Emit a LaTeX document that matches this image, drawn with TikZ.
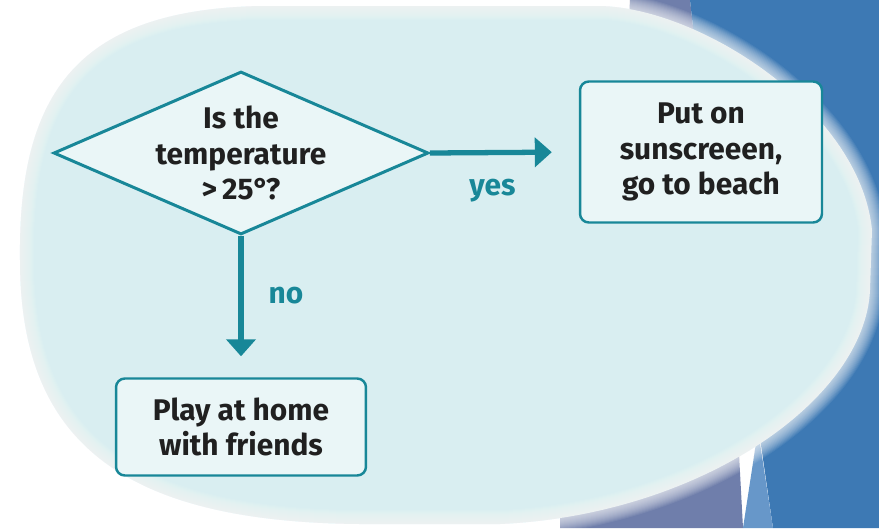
\documentclass[tikz,border=0pt]{standalone}
\usepackage{fontspec}
\setmainfont{Fira Sans}
\usetikzlibrary{arrows.meta,shapes.geometric,positioning}
\definecolor{SkyClr}{RGB}{217,238,241}
\definecolor{BoxClr}{RGB}{234,246,247}
\definecolor{LineClr}{RGB}{24,135,152}
\definecolor{InkClr}{RGB}{32,32,32}
\definecolor{DeepClr}{RGB}{61,121,180}
\definecolor{MauveClr}{RGB}{111,126,171}
\definecolor{PaleClr}{RGB}{103,151,201}
% outline of the soft oval
\def\ovalpath{(20,260) .. controls (18,90) and (80,10) .. (260,6) -- (600,6)
  .. controls (700,8) and (860,110) .. (872,230) -- (870,290)
  .. controls (865,400) and (700,515) .. (500,524) -- (360,524)
  .. controls (120,522) and (20,440) .. (20,260) -- cycle}

\begin{document}
\begin{tikzpicture}[x=0.02cm,y=-0.02cm,
  every node/.style={font=\fontsize{17}{20}\selectfont\bfseries,text=InkClr,align=center},
  ask/.style={diamond,aspect=2.3,draw=LineClr,line width=1.7pt,fill=BoxClr,
    minimum width=7.5cm,minimum height=3.26cm,inner sep=-8pt},
  act/.style={rectangle,rounded corners=5pt,draw=LineClr,line width=1.4pt,fill=BoxClr},
  flow/.style={LineClr,line width=3pt,-{Triangle[length=0.34cm,width=0.58cm]}},
  tag/.style={text=LineClr,inner sep=0pt}]
\useasboundingbox (0,0) rectangle (879,528);
\fill[white] (0,0) rectangle (879,528);

% slide decoration behind the picture
\fill[MauveClr] (630,0) -- (690,0) -- (700,90) -- (625,90) -- cycle;
\fill[MauveClr] (560,528) -- (743,528) -- (735,380) -- (560,380) -- cycle;
\fill[DeepClr] (690,0) -- (879,0) -- (879,528) -- (773,528) -- (740,300) -- (700,90) -- cycle;
\fill[PaleClr] (743,528) -- (773,528) -- (758,430) -- cycle;

% soft edged oval
\fill[SkyClr] \ovalpath;
\foreach \w in {2,4,...,28}{
  \draw[white,opacity=0.07,line width=\w*0.02cm] \ovalpath;
}

\node[ask] (temp) at (241,153) {Is the\\temperature\\>\,25°?};
\node[act,minimum width=4.84cm,minimum height=2.82cm] (beach) at (701,152) {Put on\\sunscreeen,\\go to beach};
\node[act,minimum width=5cm,minimum height=1.94cm] (home) at (241,427) {Play at home\\with friends};

\draw[flow,shorten >=0.54cm] (temp.east) -- (beach.west)
  node[tag,pos=0.42,yshift=-0.76cm] {yes};
\draw[flow,shorten >=0.42cm] (temp.south) -- (home.north)
  node[tag,pos=0.42,right=0.5cm] {no};

\end{tikzpicture}
\end{document}
